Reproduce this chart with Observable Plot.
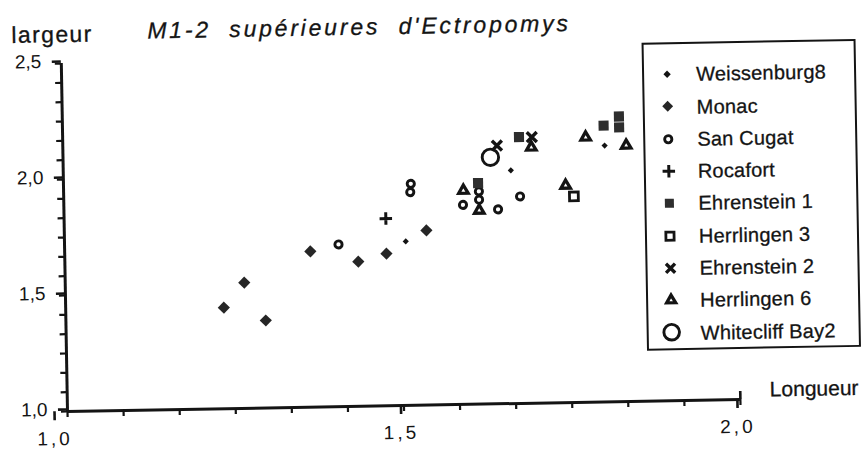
<!DOCTYPE html>
<html>
<head>
<meta charset="utf-8">
<script src="https://cdn.jsdelivr.net/npm/d3@7"></script>
<script src="https://cdn.jsdelivr.net/npm/@observablehq/plot@0.6"></script>
<style>
  html, body { margin: 0; padding: 0; background: #fff; overflow: hidden; }
  #wrap { position: relative; width: 866px; height: 450px; transform: rotate(-1.02deg); transform-origin: 67px 411px;
          font-family: "Liberation Sans", Arial, Helvetica, sans-serif; color: #141414; }
  #wrap svg.plot { position: absolute; left: 0; top: 0; }
  .lbl { position: absolute; white-space: pre; line-height: 1; -webkit-text-stroke: 0.3px #141414; }
  #title { left: 154px; top: 21px; font-size: 23px; font-style: italic; letter-spacing: 2.8px; }
  #ylab { left: 18px; top: 23px; font-size: 23px; letter-spacing: 1.4px; }
  #xlab { left: 770px; top: 391px; font-size: 21px; }
  #legend { position: absolute; left: 648px; top: 53px; width: 214px; height: 308px; box-sizing: border-box;
            border: 2.4px solid #141414; background: #fff; }
  #legend .sym { position: absolute; width: 30px; height: 30px; }
  #legend .txt { position: absolute; font-size: 20px; line-height: 1; white-space: pre; letter-spacing: 0.2px;
                 -webkit-text-stroke: 0.3px #141414; }
  [aria-label="x-axis tick label"] text { letter-spacing: 3px; }
</style>
</head>
<body>
<div id="wrap">
  <div id="title" class="lbl">M1-2  supérieures  d'Ectropomys</div>
  <div id="ylab" class="lbl">largeur</div>
  <div id="xlab" class="lbl">Longueur</div>
  <div id="legend"></div>
</div>
<script>
// ---- data (longueur x, largeur y) ----
const series = ["Weissenburg8", "Monac", "San Cugat", "Rocafort", "Ehrenstein 1",
                "Herrlingen 3", "Ehrenstein 2", "Herrlingen 6", "Whitecliff Bay2"];

const weissenburgX = [1.507, 1.665, 1.805];
const weissenburgY = [1.707, 2.005, 2.105];

const monacX = [1.235, 1.266, 1.297, 1.365, 1.436, 1.478, 1.538];
const monacY = [1.436, 1.542, 1.377, 1.671, 1.624, 1.656, 1.753];

const sanCugatX = [1.407, 1.516, 1.515, 1.593, 1.617, 1.617, 1.645, 1.678];
const sanCugatY = [1.699, 1.955, 1.919, 1.860, 1.917, 1.881, 1.838, 1.892];

const rocafortX = [1.478];
const rocafortY = [1.807];

const ehrenstein1X = [1.616, 1.678, 1.804, 1.827, 1.827];
const ehrenstein1Y = [1.953, 2.148, 2.191, 2.229, 2.182];

const herrlingen3X = [1.758];
const herrlingen3Y = [1.888];

const ehrenstein2X = [1.645, 1.697];
const ehrenstein2Y = [2.113, 2.147];

const herrlingen6X = [1.594, 1.617, 1.696, 1.746, 1.777, 1.837];
const herrlingen6Y = [1.922, 1.835, 2.103, 1.936, 2.142, 2.104];

const whitecliffX = [1.635];
const whitecliffY = [2.063];

// ---- axis ticks ----
const xMajor = [1, 1.5, 2];
const xMajorLabels = ["1,0", "1,5", "2,0"];
const xMinor = [1, 1.0833, 1.1667, 1.25, 1.3333, 1.4167, 1.5, 1.5833, 1.6667, 1.75, 1.8333, 1.9167, 2];
const yMajor = [1, 1.5, 2, 2.5];
const yMajorLabels = ["1,0", "1,5", "2,0", "2,5"];
const yMinor = [1, 1.0833, 1.1667, 1.25, 1.3333, 1.4167, 1.5, 1.5833, 1.6667, 1.75, 1.8333, 1.9167,
                2, 2.0833, 2.1667, 2.25, 2.3333, 2.4167, 2.5];

// ---- build table ----
const seriesXY = {
  "Weissenburg8": [weissenburgX, weissenburgY],
  "Monac": [monacX, monacY],
  "San Cugat": [sanCugatX, sanCugatY],
  "Rocafort": [rocafortX, rocafortY],
  "Ehrenstein 1": [ehrenstein1X, ehrenstein1Y],
  "Herrlingen 3": [herrlingen3X, herrlingen3Y],
  "Ehrenstein 2": [ehrenstein2X, ehrenstein2Y],
  "Herrlingen 6": [herrlingen6X, herrlingen6Y],
  "Whitecliff Bay2": [whitecliffX, whitecliffY]
};
const table = series.map(name => {
  const [xs, ys] = seriesXY[name];
  return {name, rows: xs.map((x, i) => ({x, y: ys[i], name}))};
});

const ink = "#141414";
const look = {
  "Weissenburg8":   {symbol: "diamond2",  r: 2.8, fill: ink, stroke: "none", strokeWidth: 0, lr: 3.3},
  "Monac":          {symbol: "diamond2",  r: 5.5, fill: "#262626", stroke: "none", strokeWidth: 0, lr: 4.9},
  "San Cugat":      {symbol: "circle",    r: 3.6, fill: "white", stroke: ink, strokeWidth: 2.9, lr: 3.6},
  "Rocafort":       {symbol: "plus",      r: 4.1, fill: "none", stroke: ink, strokeWidth: 3, lr: 4.1},
  "Ehrenstein 1":   {symbol: "square",    r: 5.7, fill: "#2e2e2e", stroke: "none", strokeWidth: 0, lr: 5.1},
  "Herrlingen 3":   {symbol: "square2",   r: 5.6, fill: "white", stroke: ink, strokeWidth: 2.8, lr: 5.2},
  "Ehrenstein 2":   {symbol: "times",     r: 4.6, fill: "none", stroke: ink, strokeWidth: 3.4, lr: 4.2},
  "Herrlingen 6":   {symbol: "triangle2", r: 4.5, fill: "white", stroke: ink, strokeWidth: 3.3, lr: 4.3},
  "Whitecliff Bay2":{symbol: "circle",    r: 8.2, fill: "none", stroke: ink, strokeWidth: 2.9, lr: 7.8}
};

const drawOrder = ["Whitecliff Bay2", "San Cugat", "Herrlingen 6", "Herrlingen 3", "Monac",
                   "Weissenburg8", "Rocafort", "Ehrenstein 1", "Ehrenstein 2"];

const dotMarks = drawOrder.map(name => {
  const s = look[name];
  const t = table.find(d => d.name === name);
  return Plot.dot(t.rows, {x: "x", y: "y", symbol: s.symbol, r: s.r, fill: s.fill,
                           stroke: s.stroke, strokeWidth: s.strokeWidth});
});

const labelOf = (ticks, labels) => d => labels[ticks.indexOf(d)];

const chart = Plot.plot({
  width: 866, height: 450,
  marginLeft: 67, marginRight: 126, marginTop: 63, marginBottom: 39,
  x: {domain: [1, 2]},
  y: {domain: [1, 2.5]},
  style: {fontFamily: "'Liberation Sans', Arial, Helvetica, sans-serif", background: "transparent", color: ink, overflow: "visible"},
  marks: [
    Plot.axisX({ticks: xMinor, tickSize: 6, tickFormat: () => "", label: null, strokeWidth: 2.2, stroke: ink}),
    Plot.axisX({ticks: [xMajor[0]], tickSize: 9, tickPadding: 11, tickFormat: labelOf(xMajor, xMajorLabels),
                label: null, fontSize: 19, strokeWidth: 2.6, stroke: ink, fill: ink, dx: -13}),
    Plot.axisX({ticks: xMajor.slice(1), tickSize: 9, tickPadding: 11, tickFormat: labelOf(xMajor, xMajorLabels),
                label: null, fontSize: 19, strokeWidth: 2.6, stroke: ink, fill: ink, dx: -3}),
    Plot.axisX({ticks: [xMajor[2]], tickSize: -8, tickFormat: () => "", label: null, strokeWidth: 2.6, stroke: ink}),
    Plot.axisY({ticks: yMinor, tickSize: 6, tickFormat: () => "", label: null, strokeWidth: 2.2, stroke: ink}),
    Plot.axisY({ticks: yMajor, tickSize: 9, tickPadding: 11, tickFormat: labelOf(yMajor, yMajorLabels),
                label: null, fontSize: 19, strokeWidth: 2.6, stroke: ink, fill: ink, dy: -2}),
    Plot.ruleX([1], {stroke: ink, strokeWidth: 3}),
    Plot.ruleY([1], {stroke: ink, strokeWidth: 3}),
    ...dotMarks
  ]
});
chart.classList.add("plot");
document.getElementById("wrap").insertBefore(chart, document.getElementById("title"));

// ---- legend ----
const symbolFns = {
  diamond2: d3.symbolDiamond2, circle: d3.symbolCircle, plus: d3.symbolPlus, square: d3.symbolSquare,
  square2: d3.symbolSquare2, times: d3.symbolTimes, triangle2: d3.symbolTriangle2
};
const legend = document.getElementById("legend");
series.forEach((name, i) => {
  const s = look[name];
  const cy = 30 + 32.3 * i;
  const svg = d3.create("svg").attr("class", "sym").attr("width", 30).attr("height", 30)
    .attr("viewBox", "-15 -15 30 30")
    .style("left", (23 - 15) + "px").style("top", (cy - 15) + "px");
  svg.append("path")
    .attr("d", d3.symbol(symbolFns[s.symbol], Math.PI * s.lr * s.lr)())
    .attr("fill", s.fill).attr("stroke", s.stroke).attr("stroke-width", s.strokeWidth);
  legend.appendChild(svg.node());
  const t = document.createElement("div");
  t.className = "txt";
  t.textContent = name;
  t.style.left = "52px";
  t.style.top = (cy - 9.8) + "px";
  legend.appendChild(t);
});
</script>
</body>
</html>
